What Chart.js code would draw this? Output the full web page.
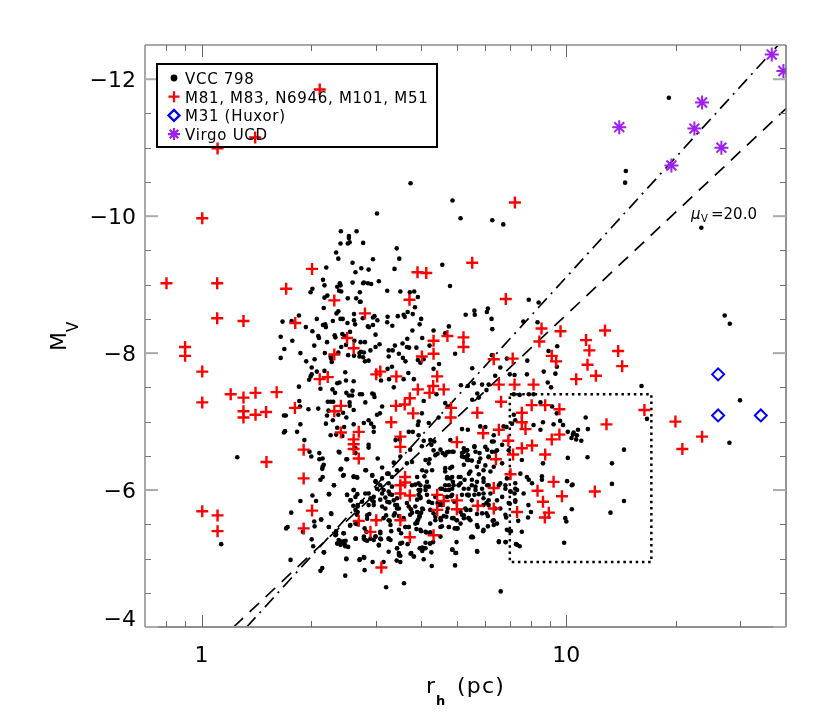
<!DOCTYPE html>
<html>
<head>
<meta charset="utf-8">
<title>M_V vs r_h</title>
<script src="https://cdn.jsdelivr.net/npm/chart.js@4"></script>
<style>
body { margin: 0; background: white; }
canvas { display: block; }
</style>
</head>
<body>
<canvas id="sizeLum" width="830" height="720"></canvas>
<script>
// all points are [log10(r_h / pc), M_V]
const vccPoints = [
[.573,-10.48],[.688,-10.23],[.710,-9.97],[.481,-10.04],[.382,-9.78],[.425,-9.78],[.404,-9.71],[.404,-9.68],
[1.281,-11.73],[1.163,-10.66],[1.161,-10.49],[.797,-9.94],[.827,-9.88],[1.370,-9.83],
[.381,-9.60],[.401,-9.60],[.406,-9.62],[.369,-9.47],[.375,-9.38],[.414,-9.32],[.342,-9.25],[.422,-9.18],[.333,-9.07],[.337,-8.99],[.414,-9.03],[.379,-9.02],[.381,-8.99],[.372,-8.97],[.304,-8.94],[.299,-8.89],[.377,-8.91],[.383,-8.90],[.434,-8.89],[.345,-8.84],[.337,-8.81],[.401,-8.80],[.424,-8.80],[.434,-8.75],[.335,-8.66],[.375,-8.61],[.370,-8.58],[.418,-8.57],[.267,-8.55],[.222,-8.46],[.247,-8.47],[.316,-8.50],[.360,-8.47],[.381,-8.50],[.387,-8.50],[.400,-8.44],[.418,-8.48],[.421,-8.42],[.333,-8.41],[.339,-8.42],[.341,-8.38],[.286,-8.38],[.304,-8.32],[.217,-8.24],[.320,-8.25],[.322,-8.22],[.365,-8.26],[.367,-8.23],[.386,-8.28],[.392,-8.25],[.407,-8.31],[.249,-8.18],[.344,-8.16],[.419,-8.18],[.309,-8.11],[.383,-8.09],[.396,-8.12],[.227,-8.06],[.271,-8.00],[.338,-8.00],[.375,-8.01],[.433,-8.00],[.418,-7.96],[.433,-7.95],[.402,-7.97],[.217,-7.93],[.310,-7.91],[.287,-7.88],[.354,-7.95],[.355,-7.92],[.357,-7.87],[.302,-7.79],
[.267,-7.51],[.302,-7.69],[.299,-7.66],[.295,-7.61],[.326,-7.48],[.316,-7.73],[.337,-7.74],[.394,-7.72],[.372,-7.56],[.378,-7.57],[.396,-7.60],[.417,-7.59],[.359,-7.47],[.366,-7.42],[.397,-7.42],[.414,-7.45],[.404,-7.38],[.413,-7.38],[.434,-7.40],[.268,-7.30],[.270,-7.22],[.293,-7.18],[.320,-7.19],[.346,-7.29],[.354,-7.29],[.361,-7.29],[.406,-7.28],[.406,-7.23],[.348,-7.16],[.375,-7.10],[.388,-7.13],[.397,-7.06],[.344,-7.09],[.360,-7.02],[.417,-7.17],[.226,-7.09],[.231,-7.09],[.271,-6.96],[.341,-6.97],[.417,-6.96],[.372,-6.91],[.391,-6.92],[.226,-6.84],[.229,-6.86],[.262,-6.85],[.354,-6.80],[.369,-6.81],[.386,-6.79],[.282,-6.73],[.422,-6.61],[.296,-6.56],[.323,-6.54],[.301,-6.49],[.378,-6.55],[.323,-6.45],[.332,-6.46],[.397,-6.45],[.098,-6.48],[.335,-6.37],[.332,-6.34],[.331,-6.31],[.383,-6.31],[.388,-6.21],[.417,-6.19],[.427,-6.18],[.332,-6.19],[.326,-6.15],[.363,-6.07],[.417,-6.00],[.304,-5.92],[.350,-5.94],[.399,-5.93],[.427,-5.94],
[.271,-5.84],[.314,-5.84],[.409,-5.85],[.246,-5.67],[.356,-5.65],[.416,-5.77],[.428,-5.76],[.428,-5.68],[.426,-5.64],[.309,-5.54],[.328,-5.57],[.310,-5.47],[.232,-5.44],[.236,-5.46],[.349,-5.46],[.407,-5.48],[.428,-5.50],[.278,-5.39],[.369,-5.40],[.369,-5.35],[.389,-5.37],[.302,-5.28],[.423,-5.29],[.306,-5.18],[.376,-5.27],[.373,-5.22],[.381,-5.25],[.386,-5.22],[.395,-5.26],[.393,-5.20],[.402,-5.17],[.336,-5.09],[.054,-5.21],[.244,-4.98],[.397,-4.99],[.433,-4.98],[.331,-4.86],[.326,-4.82],[.394,-4.75],
[.443,-9.61],[.535,-9.53],[.470,-9.37],[.542,-9.38],[.438,-9.24],[.458,-9.22],[.529,-9.23],[.660,-9.29],[.445,-9.03],[.443,-9.02],[.456,-9.02],[.465,-9.01],[.486,-9.05],[.681,-8.98],[.509,-8.91],[.545,-8.90],[.571,-8.89],[.583,-8.90],[.593,-8.82],[.436,-8.75],[.585,-8.67],[.565,-8.60],[.579,-8.57],[.538,-8.54],[.554,-8.56],[.557,-8.53],[.510,-8.53],[.509,-8.45],[.474,-8.54],[.470,-8.52],[.482,-8.48],[.442,-8.51],[.523,-8.40],[.602,-8.50],[.598,-8.42],[.456,-8.39],[.459,-8.38],[.470,-8.41],[.578,-8.33],[.636,-8.33],[.678,-8.39],[.668,-8.29],[.477,-8.27],[.564,-8.21],[.605,-8.22],[.436,-8.16],[.448,-8.16],[.488,-8.13],[.477,-8.09],[.463,-8.04],[.530,-8.11],[.551,-8.14],[.563,-8.09],[.569,-8.08],[.589,-8.08],[.625,-8.11],[.513,-8.04],[.524,-8.04],[.437,-8.02],[.445,-8.01],[.541,-7.99],[.513,-7.95],[.443,-7.94],[.448,-7.88],[.458,-7.89],[.552,-7.93],[.559,-7.88],[.593,-7.90],[.600,-7.86],[.609,-7.91],[.651,-7.84],[.695,-7.99],[.522,-7.80],[.510,-7.77],[.636,-7.77],[.742,-7.78],[.724,-8.56],[.748,-8.62],[.749,-8.56],[.785,-8.65],[.782,-8.60],[.795,-8.50],[.797,-8.35],[.897,-8.78],[.924,-8.74],[.882,-8.46],[.921,-8.45],[.975,-8.10],[.951,-8.03],[.796,-7.97],[.837,-7.92],[.893,-7.89],[.819,-7.79],[.974,-7.80],
[.440,-7.40],[.468,-7.41],[.472,-7.40],[.474,-7.36],[.449,-7.28],[.495,-7.22],[.481,-7.10],[.489,-7.12],[.445,-6.98],[.458,-7.02],[.465,-6.97],[.472,-6.92],[.472,-6.85],[.514,-7.62],[.527,-7.50],[.492,-7.60],[.567,-7.71],[.554,-7.62],[.582,-7.62],[.609,-7.30],[.644,-7.40],[.668,-7.27],[.675,-7.22],[.604,-7.12],[.595,-7.00],[.593,-6.95],[.623,-6.98],[.650,-7.06],[.711,-7.53],[.730,-7.52],[.746,-7.56],[.769,-7.54],[.787,-7.54],[.781,-7.46],[.805,-7.67],[.845,-7.69],[.858,-7.68],[.892,-7.69],[.938,-7.73],[.970,-7.70],[.949,-7.57],[.958,-7.50],[.856,-7.40],[.872,-7.39],[.897,-7.40],[.910,-7.40],[.756,-7.41],[.742,-7.32],[.760,-7.35],[.929,-7.28],[.961,-7.22],[.974,-7.12],[.983,-7.01],[.991,-6.95],[.965,-6.96],[1.004,-6.85],[1.020,-6.84],[1.029,-6.80],[.936,-6.99],[.856,-7.10],[.860,-7.02],[.910,-6.95],[.929,-6.88],[.851,-6.97],[.828,-6.93],[.836,-6.92],[.764,-6.93],[.778,-6.92],[.714,-6.89],[.730,-6.88],[.801,-6.80],[.796,-6.71],[.568,-6.85],[.579,-6.85],[.532,-6.73],[.543,-6.74],[.609,-6.72],[.627,-6.73],[.638,-6.71],[.595,-6.80],[.604,-6.64],[.572,-6.59],[.630,-6.66],[.655,-6.59],[.682,-6.73],[.661,-6.54],[.673,-6.55],[.687,-6.56],[.641,-6.51],[.625,-6.45],[.719,-6.61],[.728,-6.58],[.730,-6.51],[.748,-6.63],[.762,-6.54],[.760,-6.41],[.714,-6.54],[.720,-6.48],[.728,-6.44],[.741,-6.43],[.783,-6.59],[.796,-6.56],[.805,-6.56],[.824,-6.66],[.842,-6.58],[.787,-6.48],[.824,-6.39],[.778,-6.36],[.878,-6.44],[.936,-6.39],[1.004,-6.47],[.892,-6.19],[.933,-6.20],[.933,-6.15],[1.002,-6.13],[1.015,-6.07],[.906,-6.10],[.451,-6.29],[.468,-6.21],[.477,-6.13],[.495,-6.33],[.513,-6.24],[.522,-6.19],[.527,-6.40],[.545,-6.49],[.483,-6.46],[.577,-6.41],[.563,-6.39],[.614,-6.44],[.623,-6.39],[.668,-6.27],[.687,-6.34],[.632,-6.29],[.673,-6.19],[.682,-6.17],[.689,-6.12],[.705,-6.07],[.710,-6.19],[.733,-6.24],[.741,-6.15],[.760,-6.23],[.773,-6.17],[.787,-6.07],[.815,-6.07],[.668,-6.07],[.678,-6.00],[.687,-6.02],[.659,-6.02],[.719,-6.02],[.732,-5.93],[.751,-6.05],[.769,-6.02],[.860,-6.10],[.847,-5.98],[.865,-6.00],[.883,-5.95],[.897,-6.15],[.833,-6.07],[.605,-6.29],[.591,-6.19],[.600,-6.07],[.595,-6.00],[.577,-6.07],[.623,-6.05],[.614,-6.00],[.618,-5.93],[.522,-6.05],[.513,-5.98],[.490,-6.07],[.499,-6.00],[.458,-5.95],[.472,-5.90],
[.449,-5.95],[.468,-5.85],[.472,-5.78],[.490,-5.86],[.504,-5.89],[.516,-5.94],[.527,-5.85],[.536,-5.78],[.536,-5.73],[.495,-5.76],[.515,-5.82],[.563,-5.81],[.568,-5.76],[.574,-5.72],[.577,-5.67],[.572,-5.64],[.586,-5.76],[.591,-5.68],[.600,-5.66],[.605,-5.73],[.598,-5.61],[.591,-5.54],[.586,-5.51],[.530,-5.66],[.541,-5.62],[.554,-5.59],[.506,-5.63],[.516,-5.55],[.454,-5.58],[.460,-5.65],[.447,-5.44],[.452,-5.39],[.445,-5.29],[.454,-5.26],[.472,-5.27],[.477,-5.32],[.490,-5.39],[.490,-5.37],[.492,-5.28],[.486,-5.19],[.520,-5.40],[.513,-5.29],[.518,-5.27],[.547,-5.37],[.545,-5.22],[.550,-5.23],[.536,-5.15],[.541,-5.08],[.545,-5.04],[.559,-5.46],[.568,-5.46],[.589,-5.43],[.602,-5.40],[.616,-5.38],[.627,-5.38],[.565,-5.21],[.614,-5.23],[.626,-5.22],[.635,-5.24],[.598,-5.15],[.605,-5.16],[.611,-5.15],[.605,-5.11],[.575,-5.08],[.582,-5.03],[.609,-4.99],[.630,-5.09],[.627,-5.51],[.655,-5.46],[.641,-5.61],[.656,-5.56],[.664,-5.62],[.671,-5.61],[.687,-5.59],[.699,-5.56],[.710,-5.51],[.678,-5.46],[.694,-5.44],[.702,-5.44],[.659,-5.78],[.673,-5.90],[.684,-5.91],[.655,-5.82],[.675,-5.73],[.693,-5.83],[.623,-5.83],[.647,-5.81],[.641,-5.90],[.600,-5.88],[.598,-5.98],[.627,-5.71],[.714,-5.64],[.719,-5.59],[.732,-5.59],[.737,-5.56],[.726,-5.71],[.714,-5.93],[.732,-5.92],[.748,-5.93],[.760,-5.94],[.755,-5.65],[.769,-5.66],[.781,-5.66],[.785,-5.62],[.798,-5.55],[.801,-5.49],[.757,-5.46],[.785,-5.47],[.772,-5.40],[.773,-5.78],[.781,-5.81],[.787,-5.85],[.773,-5.88],[.787,-5.78],[.739,-5.31],[.744,-5.31],[.699,-5.24],[.688,-5.13],[.698,-5.08],[.756,-5.10],[.695,-4.90],[.631,-4.89],[.447,-4.83],[.469,-4.95],[.499,-4.95],[.446,-5.01],[.535,-4.97],[.506,-4.58],[.555,-4.64],[.820,-4.52],[.815,-5.24],[.834,-5.24],[.862,-5.21],[.872,-5.18],[.837,-5.42],[.842,-5.41],[.848,-5.40],[.878,-5.39],[.835,-5.60],[.868,-5.55],[.896,-5.78],[.903,-5.68],[.895,-5.60],[.860,-5.85],[.845,-5.80],[.858,-5.95],[.847,-5.98],[.994,-5.23],[1.015,-5.72],[.997,-5.59],[1.000,-5.54],
[1.434,-8.55],[1.448,-8.43],[1.206,-7.52],[1.476,-7.31],[1.221,-7.04],[1.053,-7.06],[1.059,-6.89],[1.032,-6.88],[1.018,-6.81],[1.014,-6.76],[1.027,-6.74],[1.041,-6.72],[1.447,-6.69],[1.158,-6.59],[1.058,-6.48],[1.125,-6.39],[1.017,-6.08],[1.125,-6.09],[1.158,-5.84],[1.121,-5.67],
[.591,-5.52],[.594,-5.57],[.597,-5.62],[.602,-5.67],[.607,-5.72],[.595,-6.10],[.586,-6.08],[.600,-6.00],[.595,-5.93],[.600,-5.90],[.591,-5.86],[.614,-6.05],[.618,-6.12],[.611,-6.20],[.616,-6.27],
[.636,-6.58],[.647,-6.53],[.668,-6.51],[.678,-6.56],[.691,-6.56],[.668,-6.32],[.682,-6.32],[.687,-6.19],[.673,-6.17],[.705,-6.19],[.710,-6.10],[.678,-6.07],[.691,-6.07],[.655,-6.02],[.668,-6.00],[.687,-5.93],[.705,-6.07],[.721,-6.15],
[.719,-6.56],[.728,-6.58],[.714,-6.49],[.728,-6.49],[.732,-6.44],[.719,-6.37],[.751,-6.56],[.748,-6.64],[.778,-6.63],[.764,-6.46],[.737,-6.27],[.755,-6.34],[.773,-6.29],[.792,-6.27],[.801,-6.34],[.787,-6.49],[.801,-6.71],[.810,-6.58],
[.741,-6.07],[.755,-6.12],[.773,-6.12],[.783,-6.07],[.732,-6.02],[.751,-6.00],[.728,-5.93],[.741,-5.85],[.773,-5.95],[.792,-5.95],[.819,-6.10],[.833,-6.02],[.824,-5.90],[.810,-5.85],[.837,-6.17],[.860,-6.02],
[.691,-5.59],[.700,-5.56],[.710,-5.68],[.719,-5.63],[.732,-5.59],[.755,-5.49],[.773,-5.42],[.801,-5.56],[.805,-5.73],[.737,-5.71],[.723,-5.73],[.655,-5.59],[.673,-5.68],[.641,-5.56],[.678,-5.46],[.659,-5.47],[.700,-5.44],[.741,-5.32],[.810,-5.51],
[.623,-5.83],[.632,-5.81],[.636,-5.66],[.650,-5.78],[.600,-5.42],[.614,-5.39],[.627,-5.38],[.605,-5.15],[.614,-5.15],[.627,-5.22],[.655,-5.32],[.687,-5.13],[.696,-5.08],[.755,-5.11],[.815,-5.25],[.833,-5.24],[.865,-5.20],
[.509,-6.24],[.513,-6.10],[.536,-6.29],[.495,-6.17],[.481,-6.02],[.495,-5.95],[.509,-5.83],[.522,-5.93],[.531,-5.78],[.536,-5.88],[.527,-5.63],[.541,-5.73],[.513,-5.56],[.472,-5.83],[.463,-5.88],[.458,-5.78],[.440,-5.83],[.417,-6.00],[.422,-5.90],[.408,-5.85],[.399,-5.93],[.428,-5.78],[.422,-5.71],[.454,-5.63],[.499,-5.59],[.504,-5.73],
[.468,-6.22],[.477,-6.12],[.417,-6.20],[.426,-6.19],[.381,-6.30],[.390,-6.22],[.363,-6.07],[.349,-5.94],[.449,-6.29],[.422,-6.54],[.399,-6.45],[.376,-6.56],[.458,-6.66],[.458,-6.62],
[.408,-5.49],[.422,-5.51],[.422,-5.29],[.445,-5.32],[.449,-5.27],[.463,-5.29],[.477,-5.32],[.490,-5.29],[.486,-5.20],[.513,-5.29],[.518,-5.49],[.541,-5.42],[.568,-5.46],[.559,-5.46],[.545,-5.22],[.536,-5.15],[.541,-5.05],[.545,-4.95],[.573,-5.07],[.582,-5.03],[.600,-5.15],[.445,-5.02],[.434,-4.99],[.397,-5.00],[.513,-5.10],[.372,-5.22],[.381,-5.20],[.390,-5.25],[.394,-5.18],[.390,-5.37],[.367,-5.34],[.335,-5.09],[.355,-5.66],[.328,-5.57],[.349,-5.46],
[.833,-5.64],[.842,-5.81],[.819,-5.73],[.860,-5.83],[.874,-6.24]
];
const localPoints = [
[.324,-11.85],[.147,-11.15],[.044,-10.99],[.002,-9.97],[.859,-10.20],
[-.096,-9.02],[.043,-9.02],[.043,-8.51],[.115,-8.47],[.232,-8.94],[.303,-9.23],[.364,-8.77],[.257,-8.44],[.399,-8.22],[.417,-8.07],[.364,-7.98],[-.045,-8.09],[-.045,-7.96],
[.742,-9.32],[.592,-9.18],[.616,-9.17],[.834,-8.79],[.570,-8.78],[.448,-8.58],[.932,-8.36],[.984,-8.32],[.926,-8.17],[.636,-8.18],[.674,-8.25],[.718,-8.23],[.718,-8.09],[.636,-7.99],[.604,-7.95],[.801,-7.91],[.853,-7.92],[.960,-7.96],[.972,-7.88],
[.002,-7.28],[.002,-7.73],[.080,-7.40],[.115,-7.35],[.148,-7.42],[.206,-7.43],[.115,-7.15],[.115,-7.06],[.148,-7.10],[.177,-7.14],[.256,-7.20],[.178,-6.41],[.280,-6.59],[.280,-6.17],[.324,-7.62],[.346,-7.65],[.382,-7.23],[.364,-7.15],[.382,-6.84],[.431,-6.85],[.417,-6.74],[.417,-6.67],[.417,-6.60],[.431,-6.46],
[.479,-7.69],[.490,-7.73],[.534,-7.66],[.646,-7.66],[.635,-7.52],[.593,-7.47],[.625,-7.42],[.664,-7.47],[.571,-7.34],[.533,-7.23],[.557,-7.25],[.580,-7.12],[.520,-6.99],[.684,-7.20],[.683,-7.06],[.756,-7.13],[.815,-7.54],[.858,-7.54],[.910,-7.54],[.821,-7.29],[.905,-7.24],[.942,-7.24],[.981,-7.18],[.878,-7.13],[.878,-6.99],[.888,-6.89],[.772,-6.83],[.815,-6.88],[.841,-6.72],[.545,-6.78],[.545,-6.63],[.700,-6.70],[.981,-6.81],[.960,-6.74],[.906,-6.65],[.878,-6.61],[.854,-6.52],[.942,-6.52],[.807,-6.45],[.847,-6.23],[.965,-6.12],[.801,-6.03],[.921,-5.99],[.988,-5.91],[.558,-6.19],[.558,-6.11],[.545,-6.07],
[.545,-5.95],[.571,-5.92],[.646,-5.93],[.664,-5.84],[.700,-5.85],[.646,-5.71],[.700,-5.72],[.757,-5.77],[.801,-5.73],[.865,-5.68],[.936,-5.83],[.952,-5.67],[.941,-5.60],[.479,-5.56],[.545,-5.56],[.463,-5.39],[.571,-5.31],[.636,-5.34],[.493,-4.87],
[.002,-5.69],[.044,-5.63],[.044,-5.40],[.303,-5.70],[.280,-5.44],[.431,-5.55],
[1.106,-8.33],[1.054,-8.19],[1.063,-8.04],[1.142,-8.03],[1.058,-7.83],[1.153,-7.81],[1.081,-7.67],[1.027,-7.62],[1.214,-7.17],[1.110,-6.96],[1.299,-7.00],[1.372,-6.78],[1.318,-6.60],[1.078,-5.98]
];
const huxorPoints = [[1.416,-7.69],[1.416,-7.09],[1.533,-7.09]];
const ucdPoints = [[1.145,-11.30],[1.288,-10.74],[1.351,-11.28],[1.372,-11.66],[1.425,-11.00],[1.563,-12.36],[1.595,-12.12]];

// r_h, M_V
const dashedLine = [[1.224,-4],[40,-11.57]];
const dashDotLine = [[1.33,-4],[38.1,-12.5]];
const boxLine = [[7,-7.4],[17.1,-7.4],[17.1,-4.95],[7,-4.95],[7,-7.4]];

const xLabelTicks = [1,10];
const xMinorTicks = [.8,.9,2,3,4,5,6,7,8,9,20,30];
// the -4 label sits a little above its tick in the figure
const yLabelTicks = [-12,-10,-8,-6,-4.13];
const yMajorTicks = [-12,-10,-8,-6,-4];
const yMinorTicks = [-11.5,-11,-10.5,-9.5,-9,-8.5,-7.5,-7,-6.5,-5.5,-5,-4.5];

const legendItems = [
    ['VCC 798', 'circle', 'black'],
    ['M81, M83, N6946, M101, M51', 'cross', 'red'],
    ['M31 (Huxor)', 'rectRot', 'blue'],
    ['Virgo UCD', 'star', '#a020f0']
];

const FONT = '"DejaVu Sans"';

function logXY(list) {
    return list.map(p => ({x: Math.pow(10, p[0]), y: p[1]}));
}
function plainXY(list) {
    return list.map(p => ({x: p[0], y: p[1]}));
}

const frameTicks = {
    id: 'frameTicks',
    afterDatasetsDraw(chart) {
        const ctx = chart.ctx, a = chart.chartArea;
        const xs = chart.scales.x, ys = chart.scales.y;
        ctx.save();
        function line(x1, y1, x2, y2, color, w) {
            ctx.strokeStyle = color;
            ctx.lineWidth = w;
            ctx.beginPath();
            ctx.moveTo(x1, y1);
            ctx.lineTo(x2, y2);
            ctx.stroke();
        }
        line(a.left, a.top, a.right, a.top, '#a8a8a8', 2);
        line(a.left, a.top, a.left, a.bottom, '#a8a8a8', 2);
        line(a.left, a.bottom, a.right, a.bottom, '#909090', 2);
        line(a.right, a.top, a.right, a.bottom, '#707070', 1.5);
        xLabelTicks.forEach(v => {
            const x = Math.round(xs.getPixelForValue(v)) + .5;
            line(x, a.bottom, x, a.bottom - 12, '#666', 1);
            line(x, a.top, x, a.top + 12, '#666', 1);
        });
        xMinorTicks.forEach(v => {
            const x = Math.round(xs.getPixelForValue(v)) + .5;
            line(x, a.bottom, x, a.bottom - 6, '#666', 1);
            line(x, a.top, x, a.top + 6, '#666', 1);
        });
        yMajorTicks.forEach(v => {
            const y = ys.getPixelForValue(v);
            line(a.left, y, a.left + 13, y, '#aaa', 2);
            line(a.right, y, a.right - 13, y, '#aaa', 2);
        });
        yMinorTicks.forEach(v => {
            const y = Math.round(ys.getPixelForValue(v)) + .5;
            line(a.left, y, a.left + 6, y, '#777', 1);
            line(a.right, y, a.right - 6, y, '#777', 1);
        });
        ctx.restore();
    }
};

const textBits = {
    id: 'textBits',
    afterDraw(chart) {
        const ctx = chart.ctx;
        ctx.save();
        ctx.fillStyle = 'black';
        ctx.textBaseline = 'alphabetic';
        ctx.textAlign = 'left';

        // legend
        ctx.strokeStyle = 'black';
        ctx.lineWidth = 2;
        ctx.strokeRect(157, 64, 280, 83);
        ctx.font = '15px ' + FONT;
        ctx.letterSpacing = '.7px';
        legendItems.forEach((it, i) => {
            const y = 78 + i * 18.7;
            ctx.fillStyle = 'black';
            ctx.fillText(it[0], 185, y + 6);
            ctx.strokeStyle = it[2];
            ctx.fillStyle = it[1] == 'rectRot' ? 'transparent' : it[2];
            ctx.lineWidth = 2.2;
            let r = 5.5;
            if (it[1] == 'circle') { r = 2.3; ctx.lineWidth = 0; }
            if (it[1] == 'star') { r = 6; }
            Chart.helpers.drawPoint(ctx, {pointStyle: it[1], radius: r, rotation: 0, borderWidth: ctx.lineWidth}, 174, y);
        });

        // mu_V label
        ctx.fillStyle = 'black';
        ctx.letterSpacing = '0px';
        ctx.font = 'italic 15px ' + FONT;
        ctx.fillText('μ', 691, 219);
        ctx.font = '10px ' + FONT;
        ctx.fillText('V', 701, 222);
        ctx.font = '15px ' + FONT;
        ctx.fillText('=20.0', 711, 219);

        // x title
        ctx.letterSpacing = '1.2px';
        ctx.font = '22px ' + FONT;
        ctx.fillText('r', 426, 693);
        ctx.fillText('(pc)', 457, 693);
        ctx.font = 'bold 13px ' + FONT;
        ctx.fillText('h', 436, 705);

        // y title
        ctx.letterSpacing = '0px';
        ctx.translate(66, 351);
        ctx.rotate(-Math.PI / 2);
        ctx.font = '22px ' + FONT;
        ctx.fillText('M', 0, 0);
        ctx.font = '15px ' + FONT;
        ctx.fillText('V', 19, 12);
        ctx.restore();
    }
};

const sizeLum = new Chart(
    document.getElementById('sizeLum'),
    {
    type: 'scatter',
    data: {
        datasets: [
            {label: 'VCC 798', data: logXY(vccPoints), order: 5, pointStyle: 'circle', pointRadius: 2.3, pointBorderWidth: 0, backgroundColor: 'black'},
            {label: 'M81, M83, N6946, M101, M51', data: logXY(localPoints), order: 1, pointStyle: 'cross', pointRadius: 6, pointBorderWidth: 2.4, borderColor: 'red', backgroundColor: 'red'},
            {label: 'M31 (Huxor)', data: logXY(huxorPoints), order: 2, pointStyle: 'rectRot', pointRadius: 6, pointBorderWidth: 2, borderColor: 'blue', backgroundColor: 'transparent'},
            {label: 'Virgo UCD', data: logXY(ucdPoints), order: 3, pointStyle: 'star', pointRadius: 7, pointBorderWidth: 2, borderColor: '#a020f0', backgroundColor: '#a020f0'},
            {label: 'mu 20', data: plainXY(dashedLine), order: 4, showLine: true, pointRadius: 0, borderColor: 'black', borderWidth: 1.7, borderDash: [13, 9]},
            {label: 'dash dot', data: plainXY(dashDotLine), order: 4, showLine: true, pointRadius: 0, borderColor: 'black', borderWidth: 1.7, borderDash: [13, 6, 2, 6]},
            {label: 'box', data: plainXY(boxLine), order: 4, showLine: true, pointRadius: 0, borderColor: 'black', borderWidth: 2.5, borderDash: [2.5, 3.7]}
        ]
    },
    options: {
        responsive: false,
        animation: false,
        layout: {padding: {left: 0, top: 45, right: 44, bottom: 0}},
        plugins: {legend: {display: false}, tooltip: {enabled: false}},
        scales: {
            x: {
                type: 'logarithmic',
                min: .7,
                max: 40,
                grid: {display: false, drawTicks: false},
                border: {display: false},
                afterBuildTicks: s => { s.ticks = xLabelTicks.map(v => ({value: v})); },
                afterFit: s => { s.height = 93; },
                ticks: {
                    padding: 16,
                    maxRotation: 0,
                    autoSkip: false,
                    color: 'black',
                    font: {family: 'DejaVu Sans', size: 22},
                    callback: v => String(v)
                }
            },
            y: {
                min: -12.5,
                max: -4,
                reverse: true,
                grid: {display: false, drawTicks: false},
                border: {display: false},
                afterBuildTicks: s => { s.ticks = yLabelTicks.map(v => ({value: v})); },
                afterFit: s => { s.width = 145; },
                ticks: {
                    padding: 9,
                    labelOffset: 2,
                    autoSkip: false,
                    color: 'black',
                    font: {family: 'DejaVu Sans', size: 22},
                    callback: v => '\u2212' + Math.abs(Math.round(v))
                }
            }
        }
    },
    plugins: [frameTicks, textBits]
    }
);
</script>
</body>
</html>
